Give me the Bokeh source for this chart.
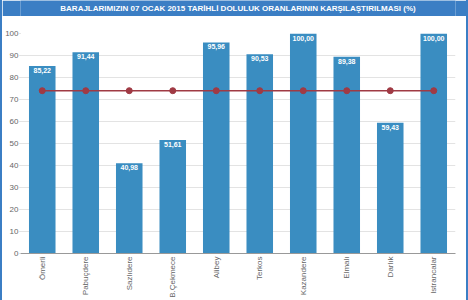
from bokeh.plotting import figure
from bokeh.layouts import column
from bokeh.models import ColumnDataSource, Range1d, FactorRange
from bokeh.core.properties import value
from bokeh.embed import file_html
from bokeh.resources import INLINE

title_text = "BARAJLARIMIZIN 07 OCAK 2015 TARİHLİ DOLULUK ORANLARININ KARŞILAŞTIRILMASI (%)"
dams = ["Ömerli", "Pabuçdere", "Sazlıdere", "B.Çekmece", "Alibey", "Terkos",
        "Kazandere", "Elmalı", "Darlık", "Istrancalar"]
fill_rates = [85.22, 91.44, 40.98, 51.61, 95.96, 90.53, 100.00, 89.38, 59.43, 100.00]
reference_line = [74, 74, 74, 74, 74, 74, 74, 74, 74, 74]
y_ticks = [0, 10, 20, 30, 40, 50, 60, 70, 80, 90, 100]

HEAD = "#3b7ec4"
BAR = "#3a8dc1"
RED = "#a03a44"
FONT = "Liberation Sans"

labels = [f"{v:.2f}".replace(".", ",") for v in fill_rates]
src = ColumnDataSource(dict(dam=dams, rate=fill_rates, ref=reference_line, lab=labels))

# title bar
t = figure(width=464, height=16, x_range=Range1d(0, 1), y_range=Range1d(0, 1),
           output_backend="svg", toolbar_location=None,
           min_border=0, min_border_left=0, min_border_right=0,
           min_border_top=0, min_border_bottom=0)
t.background_fill_color = HEAD
t.border_fill_color = HEAD
t.outline_line_color = None
t.axis.visible = False
t.grid.visible = False
t.text(x=[0.5], y=[0.5], text=[title_text], text_align="center", text_baseline="middle",
       text_color="white", text_font=value(FONT), text_font_style="bold",
       text_font_size="8px")

p = figure(width=464, height=284, x_range=FactorRange(*dams), y_range=Range1d(0, 100),
           output_backend="svg", toolbar_location=None,
           min_border_left=0, min_border_right=11, min_border_top=17, min_border_bottom=0)
p.outline_line_color = None
p.background_fill_color = "white"
p.border_fill_color = "white"

p.vbar(x="dam", top="rate", width=0.61, source=src, color=BAR, line_color=None)
p.text(x="dam", y="rate", text="lab", source=src, text_align="center", text_baseline="top",
       y_offset=2, text_color="white", text_font=value(FONT), text_font_style="bold",
       text_font_size="7px")
p.line(x="dam", y="ref", source=src, line_color=RED, line_width=1.5)
p.scatter(x="dam", y="ref", source=src, size=6, color=RED)

p.yaxis.ticker = y_ticks
p.yaxis.axis_line_color = None
p.yaxis.major_tick_line_color = "#cccccc"
p.yaxis.major_tick_out = 1
p.yaxis.major_tick_in = 0
p.yaxis.minor_tick_line_color = None
p.yaxis.major_label_standoff = 1
p.yaxis.major_label_text_font_size = "8px"
p.yaxis.major_label_text_color = "#666666"
p.yaxis.major_label_text_font = FONT

p.xaxis.axis_line_color = "#999999"
p.xaxis.major_tick_line_color = None
p.xaxis.minor_tick_line_color = None
p.xaxis.major_label_orientation = 1.5708
p.xaxis.major_label_standoff = -3
p.xaxis.major_label_text_font_size = "8px"
p.xaxis.major_label_text_color = "#666666"
p.xaxis.major_label_text_font = FONT

p.xgrid.grid_line_color = None
p.ygrid.grid_line_color = "#e3e3e3"

layout = column(t, p, spacing=0,
                styles={"border-left": f"2px solid {HEAD}", "border-right": f"2px solid {HEAD}"})

open("out.html", "w").write(file_html(layout, INLINE))
